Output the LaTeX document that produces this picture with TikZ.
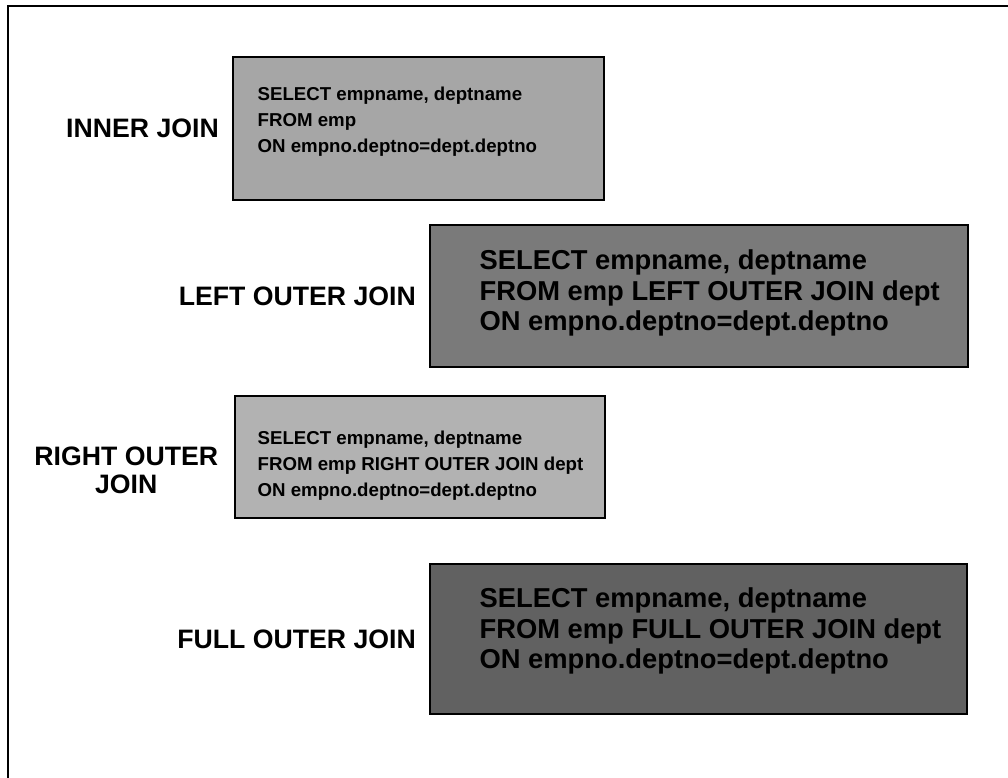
\documentclass[tikz,border=0pt]{standalone}
\usepackage{fontspec}
\setmainfont{Liberation Sans}
\usepackage{tikz}
\usetikzlibrary{positioning,calc}

\begin{document}
\begin{tikzpicture}[x=0.75pt, y=-0.75pt,
    sqlbox/.style={rectangle, draw=black, line width=0.9pt, inner sep=0pt},
    sqltext/.style={anchor=west, align=left, inner sep=0pt, font=\bfseries\fontsize{14}{19.5}\selectfont},
    bigsql/.style={sqltext, font=\bfseries\fontsize{20.5}{23}\selectfont},
    joinlabel/.style={align=center, inner sep=0pt, font=\bfseries\fontsize{20}{21}\selectfont}
]
\useasboundingbox (0,0) rectangle (1008,778);
\clip (0,0) rectangle (1008,778);

% frame, open at the right and at the bottom
\draw[line width=1.5pt] (1040,6) -- (8,6) -- (8,800);

% the four query boxes
\node[sqlbox, fill=black!35, minimum width=278.25pt, minimum height=107.25pt] (q1) at (418.5,128.5) {};
\node[sqlbox, fill=black!52, minimum width=403.5pt, minimum height=106.5pt] (q2) at (699,296) {};
\node[sqlbox, fill=black!30, minimum width=277.5pt, minimum height=91.5pt] (q3) at (420,457) {};
\node[sqlbox, fill=black!62, minimum width=402.75pt, minimum height=112.5pt] (q4) at (698.5,639) {};

% query text
\node[sqltext] (sel1) at ($(q1.west)+(25,-7)$) {SELECT empname, deptname\\FROM emp\\ON empno.deptno=dept.deptno};
\node[bigsql] (sel2) at ($(q2.west)+(50,-3)$) {SELECT empname, deptname\\FROM emp LEFT OUTER JOIN dept\\ON empno.deptno=dept.deptno};
\node[sqltext] (sel3) at ($(q3.west)+(23,9)$) {SELECT empname, deptname\\FROM emp RIGHT OUTER JOIN dept\\ON empno.deptno=dept.deptno};
\node[bigsql] (sel4) at ($(q4.west)+(50,-8)$) {SELECT empname, deptname\\FROM emp FULL OUTER JOIN dept\\ON empno.deptno=dept.deptno};

% join names
\node[joinlabel, left=10pt of q1] (lab1) {INNER JOIN};
\node[joinlabel, left=10pt of q2] (lab2) {LEFT OUTER JOIN};
\node[joinlabel, left=12pt of q3, yshift=-10pt] (lab3) {RIGHT OUTER\\JOIN};
\node[joinlabel, left=10pt of q4] (lab4) {FULL OUTER JOIN};
\end{tikzpicture}
\end{document}
